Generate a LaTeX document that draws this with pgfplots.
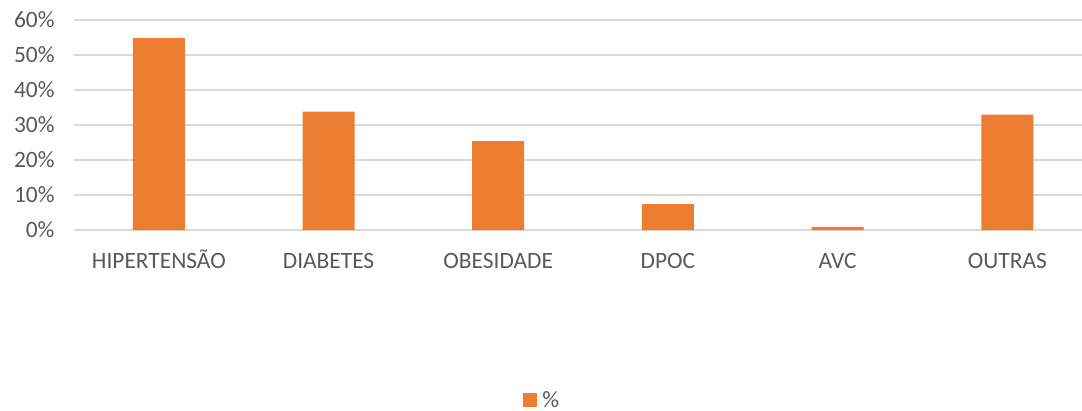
\documentclass[border=0pt]{standalone}
\usepackage{pgfplots}
\pgfplotsset{compat=1.18}
\usepackage{fontspec}
\setmainfont{Carlito}
\definecolor{barorange}{HTML}{ED7D31}
\definecolor{gridgray}{HTML}{D9D9D9}
\definecolor{labelgray}{HTML}{595959}
\begin{document}
\begin{tikzpicture}
\begin{axis}[
  scale only axis,
  width=1008bp, height=210bp,
  xmin=-0.5, xmax=5.44,
  ymin=0, ymax=60,
  ytick={0,10,20,30,40,50,60},
  yticklabel={\pgfmathprintnumber{\tick}\%},
  /pgf/number format/assume math mode=true,
  xtick={0,1,2,3,4,5},
  xticklabels={HIPERTENSÃO,DIABETES,OBESIDADE,DPOC,AVC,OUTRAS},
  axis line style={draw=none},
  major tick length=0pt,
  ymajorgrids,
  grid style={gridgray, line width=1.3bp},
  tick label style={font=\fontsize{23.5}{27}\selectfont, text=labelgray},
  yticklabel style={xshift=-16bp},
  xticklabel style={anchor=north, text height=19bp, text depth=5bp, yshift=-16bp},
  legend style={at={(0.466,-0.81)}, anchor=center, draw=none, inner sep=0pt,
    font=\fontsize{23.5}{27}\selectfont, text=labelgray,
    nodes={inner xsep=5bp, inner ysep=0pt}},
  legend image code/.code={\fill[barorange] (0bp,-7bp) rectangle (14bp,7bp);},
]
\addplot[ybar, bar width=52bp, fill=barorange, draw=none] coordinates {
  (0,54.8) (1,33.8) (2,25.4) (3,7.4) (4,0.9) (5,33.0)
};
\addlegendentry{\%}
\end{axis}
\pgfresetboundingbox
\useasboundingbox (-74bp,-181bp) rectangle (1008bp,230bp);
\end{tikzpicture}
\end{document}
